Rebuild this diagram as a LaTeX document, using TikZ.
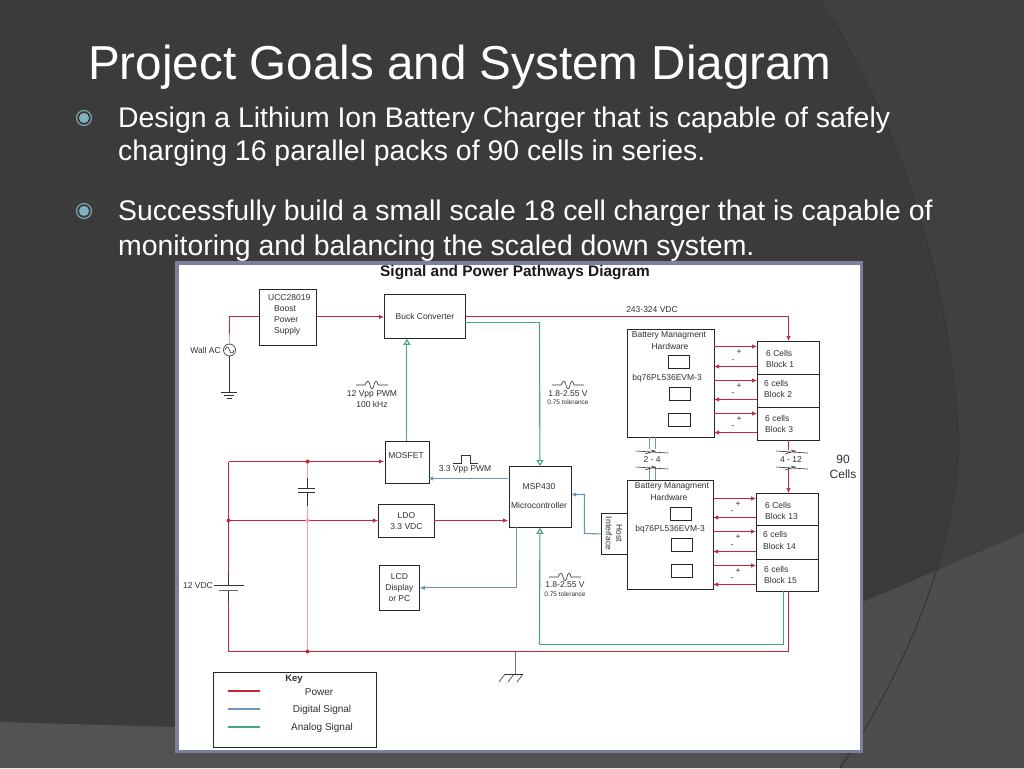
\documentclass[tikz,border=0pt]{standalone}
\usepackage{fontspec}
\setmainfont{Liberation Sans}
\usetikzlibrary{arrows.meta}
\definecolor{bgd}{HTML}{3B3B3B}
\definecolor{bgr}{HTML}{404040}
\definecolor{bgw}{HTML}{4D4D4D}
\definecolor{bgl}{HTML}{535353}
\definecolor{pan}{HTML}{7C809E}
\definecolor{pw}{HTML}{C8243A}
\definecolor{pk}{HTML}{F0A0AE}
\definecolor{dg}{HTML}{6C94BC}
\definecolor{an}{HTML}{45A585}
\definecolor{tx}{HTML}{303030}
\definecolor{bring}{HTML}{7FA3AD}
\definecolor{bfill}{HTML}{7FB3C2}
\tikzset{
 box/.style={draw=black!85,line width=.8pt,fill=white,inner sep=0pt},
 lbl/.style={text=tx,font=\fontsize{8.5}{10}\selectfont,inner sep=0pt,align=center},
 sm/.style={text=tx,font=\fontsize{6.5}{7.5}\selectfont,inner sep=0pt,align=center},
 keytext/.style={text=tx,font=\fontsize{10}{12}\selectfont,inner sep=0pt},
 pwr/.style={draw=pw,line width=1.1pt},
 pka/.style={draw=pk,line width=1.3pt},
 dig/.style={draw=dg,line width=1.1pt},
 ana/.style={draw=an,line width=1.1pt},
 blk/.style={draw=black!80,line width=.8pt},
 ah/.style={-{Latex[length=5pt,width=4.5pt]}},
 oh/.style={-{Triangle[open,length=6pt,width=7pt,fill=white]}},
 dot/.style={circle,fill=pw,inner sep=0pt,minimum size=4pt},
 head/.style={text=white,inner sep=0pt,anchor=base west},
}
\newcommand{\wavy}[2]{\draw[blk,line width=.6pt] (#1-16,#2) -- (#1-7,#2) .. controls (#1-5,#2-5) and (#1-3,#2-5) .. (#1-2,#2) .. controls (#1-1,#2+5) and (#1+1,#2+5) .. (#1+2,#2) .. controls (#1+3,#2-5) and (#1+5,#2-5) .. (#1+6,#2) -- (#1+16,#2);}
\begin{document}
\begin{tikzpicture}[x=1pt,y=-1pt]
\useasboundingbox (0,0) rectangle (1024,768);
\fill[bgd] (0,0) rectangle (1024,768);
\fill[bgr] (820,0) .. controls (905,130) and (950,290) .. (958,430) .. controls (962,520) and (920,650) .. (840,768) -- (1024,768) -- (1024,0) -- cycle;
\fill[bgw] (863,602) -- (1024,533) -- (1024,768) -- (840,768) -- (840,612) -- cycle;
\fill[bgl] (0,722) -- (175,727) -- (175,753) -- (840,753) -- (840,768) -- (0,768) -- cycle;
\draw[black!14!bgr,line width=1.2pt] (820,0) .. controls (905,130) and (950,290) .. (958,430) .. controls (962,520) and (920,650) .. (840,768);
% Heading
\node[head,font=\fontsize{47.6}{48}\selectfont] (title) at (88,79) {Project Goals and System Diagram};
\foreach \n/\y in {ba/118,bb/211}{
 \node[circle,draw=bring,line width=1.2pt,minimum size=15pt,inner sep=0pt] (\n) at (84,\y) {};
 \fill[bfill] (\n) circle (5pt);
}
\node[head,font=\fontsize{28.4}{28}\selectfont] (l1) at (118,127) {Design a Lithium Ion Battery Charger that is capable of safely};
\node[head,font=\fontsize{28.4}{28}\selectfont] (l2) at (118,160) {charging 16 parallel packs of 90 cells in series.};
\node[head,font=\fontsize{28.4}{28}\selectfont] (l3) at (118,220) {Successfully build a small scale 18 cell charger that is capable of};
\node[head,font=\fontsize{28.4}{28}\selectfont] (l4) at (118,255) {monitoring and balancing the scaled down system.};
% Panel
\fill[pan] (175,261) rectangle (863,753);
\fill[white] (179,265) rectangle (860,750);
\node[text=black!90,font=\bfseries\fontsize{15.4}{16}\selectfont,inner sep=0pt] (ttl) at (515,273) {Signal and Power Pathways Diagram};
% Nodes
\node[box,minimum width=57pt,minimum height=56pt,anchor=north west] (ucc) at (259,288.5) {};
\node[lbl,anchor=north west,align=left] at (268,294) {UCC28019};
\node[lbl,anchor=north west,align=left] at (274,305) {Boost};
\node[lbl,anchor=north west,align=left] at (274,316) {Power};
\node[lbl,anchor=north west,align=left] at (274,327) {Supply};
\node[box,lbl,draw=black!85,minimum width=81pt,minimum height=44pt,anchor=north west] (buck) at (384,294) {Buck Converter};
\node[box,minimum width=44pt,minimum height=42pt,anchor=north west] (mos) at (384.5,441) {};
\node[lbl] at (406,456) {MOSFET};
\node[box,minimum width=62pt,minimum height=61pt,anchor=north west] (msp) at (508.5,466) {};
\node[lbl] at (539,487) {MSP430};
\node[lbl] at (539,505) {Microcontroller};
\node[box,lbl,draw=black!85,minimum width=56pt,minimum height=33pt,anchor=north west,align=center] (ldo) at (378,504) {LDO\\[1pt]3.3 VDC};
\node[box,lbl,draw=black!85,minimum width=40pt,minimum height=45pt,anchor=north west,align=center] (lcd) at (379,565) {LCD\\[1pt]Display\\[1pt]or PC};
\node[circle,draw=black!70,line width=.8pt,minimum size=12pt,inner sep=0pt,fill=white] (ac) at (229.5,350) {};
\draw[blk,line width=.6pt] (225,350) .. controls (226.5,346) and (228.5,346) .. (229.5,350) .. controls (230.5,354) and (232.5,354) .. (234,350);
\node[lbl,anchor=east] at (221,350) {Wall AC};
% Battery mgmt 1
\node[box,minimum width=87pt,minimum height=108pt,anchor=north west] (bm1) at (627,329) {};
\node[lbl] at (669,335) {Battery Managment};
\node[lbl] at (670,346) {Hardware};
\node[lbl] at (667,378) {bq76PL536EVM-3};
\draw[box] (668,355) rectangle (689,368);
\draw[box] (669,387) rectangle (690,400);
\draw[box] (668.5,413) rectangle (690,426);
\node[box,minimum width=62pt,minimum height=33pt,anchor=north west] (b1) at (757,341) {};
\node[box,minimum width=62pt,minimum height=33pt,anchor=north west] (b2) at (757,374) {};
\node[box,minimum width=62pt,minimum height=33pt,anchor=north west] (b3) at (757,407) {};
\node[lbl,anchor=west] at (766,353) {6 Cells};
\node[lbl,anchor=west] at (766,364) {Block 1};
\node[lbl,anchor=west] at (764,383) {6 cells};
\node[lbl,anchor=west] at (764,394) {Block 2};
\node[lbl,anchor=west] at (765,418) {6 cells};
\node[lbl,anchor=west] at (765,429) {Block 3};
% Battery mgmt 2
\node[box,minimum width=86pt,minimum height=109pt,anchor=north west] (bm2) at (627,480) {};
\node[lbl] at (672,486) {Battery Managment};
\node[lbl] at (669,497) {Hardware};
\node[lbl] at (670,529) {bq76PL536EVM-3};
\draw[box] (670,507) rectangle (691,520);
\draw[box] (671,538) rectangle (692,551);
\draw[box] (671,564) rectangle (692,577);
\node[box,minimum width=26pt,minimum height=41pt,anchor=north west] (host) at (601,513) {};
\node[lbl,rotate=-90,align=center,font=\fontsize{8.5}{10.5}\selectfont] at (614,533.5) {Host\\Interface};
\node[box,minimum width=62pt,minimum height=32pt,anchor=north west] (b13) at (756,493) {};
\node[box,minimum width=62pt,minimum height=34pt,anchor=north west] (b14) at (756,525) {};
\node[box,minimum width=62pt,minimum height=32pt,anchor=north west] (b15) at (756,559) {};
\node[lbl,anchor=west] at (765,505) {6 Cells};
\node[lbl,anchor=west] at (765,516) {Block 13};
\node[lbl,anchor=west] at (763,534.5) {6 cells};
\node[lbl,anchor=west] at (763,546) {Block 14};
\node[lbl,anchor=west] at (764,569) {6 cells};
\node[lbl,anchor=west] at (764,580) {Block 15};
% Coordinates
\coordinate (gnd1) at (229.5,392);
\coordinate (c1) at (228.5,461.5);
\coordinate (n1) at (307.5,461.5);
\coordinate (c2) at (228.5,520.5);
\coordinate (n2) at (307.5,520.5);
\coordinate (c3) at (228.5,651.5);
\coordinate (n3) at (307.5,651.5);
\coordinate (gnd2) at (515.5,651.5);
\coordinate (bat1) at (228.5,585);
\coordinate (bat2) at (228.5,590);
% Power
\draw[pka] (ac.north) -- (229.5,334);
\draw[pwr] (229.5,334) |- (ucc.west);
\draw[pwr,ah] (ucc.east) -- (buck.west |- ucc.east);
\draw[pwr] (465,316.5) -- (788.5,316.5);
\draw[pwr,ah] (788.5,316.5) -- (788.5,341);
\draw[pwr,ah] (c1) -- (384,461.5);
\draw[pwr] (c1) -- (228.5,573);
\draw[pwr,ah] (c2) -- (378,520.5);
\draw[pwr,ah] (434,520.5) -- (508,520.5);
\draw[pwr] (228.5,602) -- (c3) -- (788.5,651.5) -- (788.5,591);
\draw[pka] (n1) -- (307.5,478);
\draw[pka] (307.5,506) -- (n3);
\draw[blk] (307.5,478) -- (307.5,488);
\draw[blk] (307.5,492) -- (307.5,506);
\draw[blk,line width=1pt] (298,488) -- (315,488);
\draw[blk,line width=1pt] (298,492) -- (315,492);
\draw[blk] (228.5,573) -- (bat1);
\draw[blk] (bat2) -- (228.5,602);
\draw[blk,line width=1pt] (214,585) -- (244,585);
\draw[black!60,line width=1pt] (219,590) -- (238,590);
\node[dot] at (n1) {};
\node[dot] at (c2) {};
\node[dot,fill=pk] at (n2) {};
\node[dot] at (n3) {};
\node[lbl,anchor=east] at (213,586) {12 VDC};
% Ground 1
\draw[blk] (ac.south) -- (gnd1);
\draw[blk] (221,392) -- (237,392);
\draw[blk] (224,395) -- (234,395);
\draw[blk] (226.5,398) -- (231.5,398);
% Ground 2
\draw[black!55,line width=1pt] (gnd2) -- (515.5,674);
\draw[blk] (505,674) -- (523,674);
\foreach \x in {505,514,523}{\draw[blk,line width=.6pt] (\x,674) -- (\x-6,682);}
% Signal
\draw[ana,oh] (mos.north) -- (buck.south -| mos.north);
\draw[ana] (465,322.5) -- (539.5,322.5);
\draw[ana,oh] (539.5,322.5) -- (msp.north);
\draw[ana] (783.5,591) -- (783.5,644.5) -- (539.5,644.5);
\draw[ana,oh] (539.5,644.5) -- (msp.south);
\draw[dig,ah] (508,478.5) -- (428,478.5);
\draw[dig,ah] (516.5,527) |- (lcd.east);
\draw[dig,ah] (host.west) -- (584.5,533.5) |- (571,494.5);
% Links between BMS
\draw[dig] (649.5,437) -- (649.5,449) (655.5,437) -- (655.5,449) (649.5,467) -- (649.5,480) (655.5,467) -- (655.5,480);
\draw[blk,line width=.6pt] (636,451) -- (668,453) (645,454) -- (655,451) -- (651,450);
\draw[blk,line width=.6pt] (636,467) -- (668,469) (645,470) -- (655,467) -- (651,466);
\node[lbl] at (652,460) {2 - 4};
\draw[pwr] (788.5,440) -- (788.5,450);
\draw[pwr,ah] (788.5,468) -- (788.5,493);
\draw[blk,line width=.6pt] (776,451) -- (808,453) (785,454) -- (795,451) -- (791,450);
\draw[blk,line width=.6pt] (776,467) -- (808,469) (785,470) -- (795,467) -- (791,466);
\node[lbl] at (791,460) {4 - 12};
\node[lbl,font=\fontsize{12}{15}\selectfont,align=center] at (843,466.5) {90\\Cells};
% BMS arrows
\foreach \y/\z in {346/366,380/399,413/432}{
 \draw[pwr,ah] (714,\y+.5) -- (757,\y+.5);
 \draw[pwr,ah] (757,\z+.5) -- (714,\z+.5);
 \node[lbl] at (739,\y+6) {+};
 \node[lbl] at (733,\z-5) {-};
}
\foreach \y/\z in {498/517,531/551,565/584}{
 \draw[pwr,ah] (713,\y+.5) -- (756,\y+.5);
 \draw[pwr,ah] (756,\z+.5) -- (713,\z+.5);
 \node[lbl] at (738,\y+6) {+};
 \node[lbl] at (732,\z-5) {-};
}
% Waves and labels
\node[lbl] at (652,310) {243-324 VDC};
\wavy{372}{385}
\node[lbl] at (372,394) {12 Vpp PWM};
\node[lbl] at (372,404) {100 kHz};
\draw[blk,line width=.6pt] (453,463) -- (461,463) -- (461,455) -- (470,455) -- (470,463) -- (478,463);
\node[lbl] at (465,469) {3.3 Vpp PWM};
\wavy{568}{385}
\node[lbl] at (568,394) {1.8-2.55 V};
\node[sm] at (568,402.5) {0.75 tolerance};
\wavy{565}{577}
\node[lbl] at (565,585) {1.8-2.55 V};
\node[sm] at (565,594) {0.75 tolerance};
% Key
\node[box,minimum width=163pt,minimum height=75pt,anchor=north west] (key) at (213,672) {};
\node[lbl,font=\bfseries\fontsize{9.5}{11}\selectfont] at (294,679) {Key};
\coordinate (k1a) at (228,691); \coordinate (k1b) at (260,691);
\coordinate (k2a) at (228,709); \coordinate (k2b) at (260,709);
\coordinate (k3a) at (228,727); \coordinate (k3b) at (260,727);
\draw[pwr,line width=1.25pt] (k1a) -- (k1b);
\draw[dig,line width=1.25pt] (k2a) -- (k2b);
\draw[ana,line width=1.25pt] (k3a) -- (k3b);
\node[keytext] at (319,692) {Power};
\node[keytext] at (322,710) {Digital Signal};
\node[keytext] at (322,728) {Analog Signal};
\end{tikzpicture}
\end{document}
